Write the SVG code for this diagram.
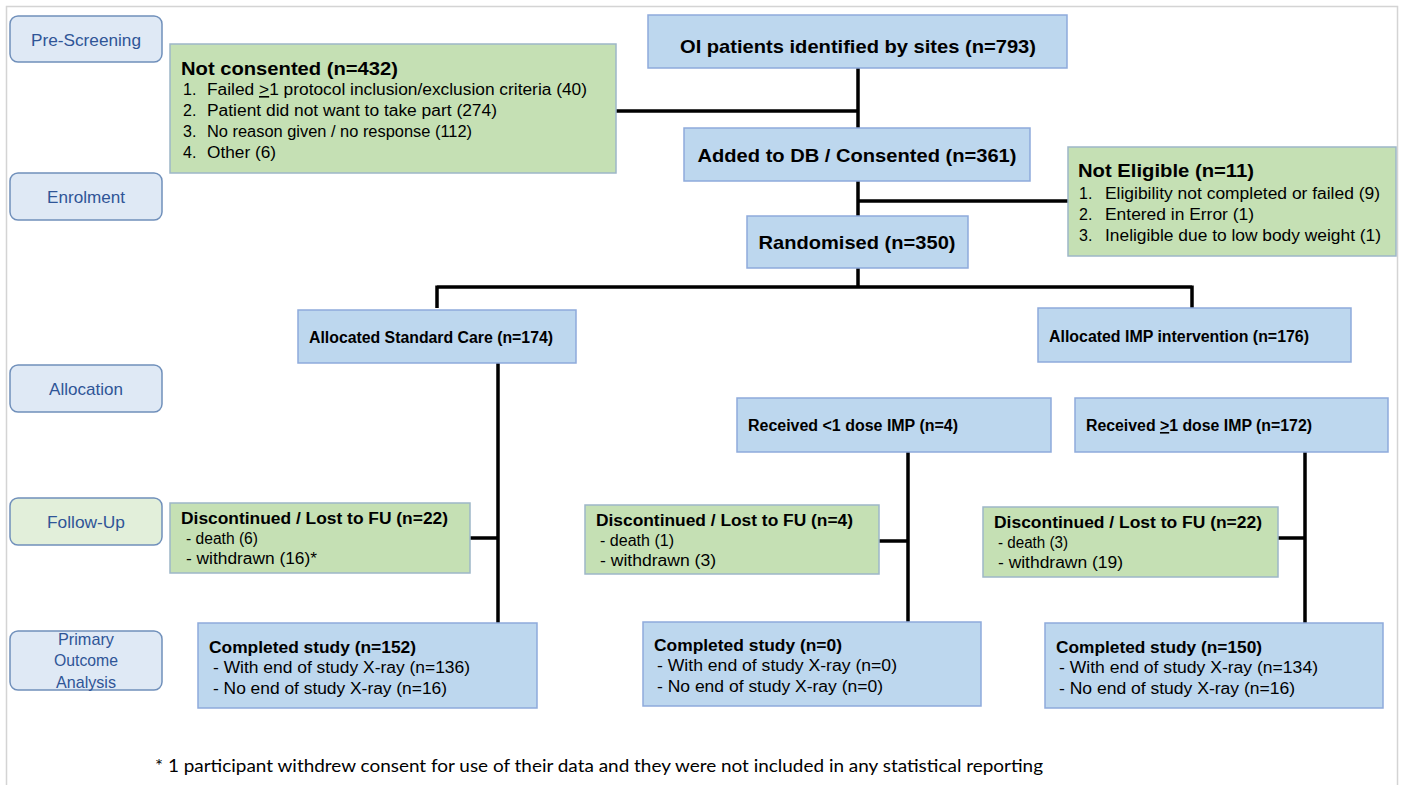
<svg xmlns="http://www.w3.org/2000/svg" width="1405" height="785" viewBox="0 0 1405 785">
<style>
text{font-family:"Liberation Sans",Arial,sans-serif;fill:#000}
.big{font-size:19px;font-weight:bold}
.t{font-size:18px;font-weight:bold}
.s{font-size:16px}
.sb{font-size:16px;font-weight:bold}
.blue{fill:#bdd7ee;stroke:#8eaadb;stroke-width:1.5}
.green{fill:#c5e0b4;stroke:#9db7c8;stroke-width:1.5}
.stage{fill:#dfe9f5;stroke:#7090bb;stroke-width:1.5}
.stageg{fill:#e2efda;stroke:#7090bb;stroke-width:1.5}
.st{font-size:17px;fill:#2f5597;text-anchor:middle}
.c{stroke:#000;stroke-width:3.5;fill:none}
</style>
<rect x="6.5" y="6.5" width="1391" height="800" fill="#fff" stroke="#d4d4d4" stroke-width="1.5"/>

<g id="stages">
<g id="stage-prescreening"><rect class="stage" x="10" y="16" width="152" height="46" rx="8"/><text class="st" x="86" y="46" textLength="110" lengthAdjust="spacingAndGlyphs">Pre-Screening</text></g>
<g id="stage-enrolment"><rect class="stage" x="10" y="173" width="152" height="47" rx="8"/><text class="st" x="86" y="203" textLength="78" lengthAdjust="spacingAndGlyphs">Enrolment</text></g>
<g id="stage-allocation"><rect class="stage" x="10" y="365" width="152" height="47" rx="8"/><text class="st" x="86" y="395" textLength="74" lengthAdjust="spacingAndGlyphs">Allocation</text></g>
<g id="stage-followup"><rect class="stageg" x="10" y="498" width="152" height="47" rx="8"/><text class="st" x="86" y="528" textLength="78" lengthAdjust="spacingAndGlyphs">Follow-Up</text></g>
<g id="stage-primary"><rect class="stage" x="10" y="631" width="152" height="59" rx="8"/>
<text class="st" x="86" y="645" textLength="56" lengthAdjust="spacingAndGlyphs">Primary</text>
<text class="st" x="86" y="666" textLength="64" lengthAdjust="spacingAndGlyphs">Outcome</text>
<text class="st" x="86" y="688" textLength="60" lengthAdjust="spacingAndGlyphs">Analysis</text></g>
</g>

<g id="connectors">
<path class="c" d="M858 68V128M616 111H858"/>
<path class="c" d="M858 181V216M858 201H1068"/>
<path class="c" d="M858 268V287M437 287H1192M437 285.5V308M1192 285.5V308"/>
<path class="c" d="M498 363V623M470 538H498"/>
<path class="c" d="M908 452V622M879 541H908"/>
<path class="c" d="M1305 452V623M1278 538H1305"/>
</g>

<g id="identified"><rect class="blue" x="648" y="15" width="419" height="53"/>
<text class="big" x="858" y="53" text-anchor="middle" textLength="356" lengthAdjust="spacingAndGlyphs">OI patients identified by sites (n=793)</text></g>

<g id="not-consented"><rect class="green" x="170" y="44" width="446" height="129"/>
<text class="t" x="181" y="75" textLength="217" lengthAdjust="spacingAndGlyphs">Not consented (n=432)</text>
<text class="s" x="183" y="95">1.</text><text class="s" x="207" y="95" textLength="380" lengthAdjust="spacingAndGlyphs">Failed <tspan text-decoration="underline">&gt;</tspan>1 protocol inclusion/exclusion criteria (40)</text>
<text class="s" x="183" y="116">2.</text><text class="s" x="207" y="116" textLength="290" lengthAdjust="spacingAndGlyphs">Patient did not want to take part (274)</text>
<text class="s" x="183" y="137">3.</text><text class="s" x="207" y="137" textLength="265" lengthAdjust="spacingAndGlyphs">No reason given / no response (112)</text>
<text class="s" x="183" y="158">4.</text><text class="s" x="207" y="158" textLength="69" lengthAdjust="spacingAndGlyphs">Other (6)</text>
</g>

<g id="consented"><rect class="blue" x="684" y="128" width="346" height="53"/>
<text class="big" x="857" y="162" text-anchor="middle" textLength="319" lengthAdjust="spacingAndGlyphs">Added to DB / Consented (n=361)</text></g>

<g id="not-eligible"><rect class="green" x="1068" y="147" width="328" height="109"/>
<text class="t" x="1078" y="177" textLength="176" lengthAdjust="spacingAndGlyphs">Not Eligible (n=11)</text>
<text class="s" x="1079" y="199">1.</text><text class="s" x="1105" y="199" textLength="275" lengthAdjust="spacingAndGlyphs">Eligibility not completed or failed (9)</text>
<text class="s" x="1079" y="220">2.</text><text class="s" x="1105" y="220" textLength="149" lengthAdjust="spacingAndGlyphs">Entered in Error (1)</text>
<text class="s" x="1079" y="241">3.</text><text class="s" x="1105" y="241" textLength="276" lengthAdjust="spacingAndGlyphs">Ineligible due to low body weight (1)</text>
</g>

<g id="randomised"><rect class="blue" x="747" y="216" width="221" height="52"/>
<text class="big" x="857" y="249" text-anchor="middle" textLength="197" lengthAdjust="spacingAndGlyphs">Randomised (n=350)</text></g>

<g id="alloc-standard"><rect class="blue" x="298" y="310" width="278" height="53"/>
<text class="sb" x="309" y="343" textLength="244" lengthAdjust="spacingAndGlyphs">Allocated Standard Care (n=174)</text></g>

<g id="alloc-imp"><rect class="blue" x="1038" y="308" width="313" height="54"/>
<text class="sb" x="1049" y="342" textLength="260" lengthAdjust="spacingAndGlyphs">Allocated IMP intervention (n=176)</text></g>

<g id="received-lt1"><rect class="blue" x="737" y="398" width="314" height="54"/>
<text class="sb" x="748" y="431" textLength="210" lengthAdjust="spacingAndGlyphs">Received &lt;1 dose IMP (n=4)</text></g>

<g id="received-ge1"><rect class="blue" x="1075" y="398" width="313" height="54"/>
<text class="sb" x="1086" y="431" textLength="226" lengthAdjust="spacingAndGlyphs">Received <tspan text-decoration="underline">&gt;</tspan>1 dose IMP (n=172)</text></g>

<g id="disc-standard"><rect class="green" x="170" y="503" width="300" height="70"/>
<text class="sb" x="181" y="524" textLength="267" lengthAdjust="spacingAndGlyphs">Discontinued / Lost to FU (n=22)</text>
<text class="s" x="186" y="544" textLength="72" lengthAdjust="spacingAndGlyphs">- death (6)</text>
<text class="s" x="186" y="564" textLength="131" lengthAdjust="spacingAndGlyphs">- withdrawn (16)*</text></g>

<g id="disc-lt1"><rect class="green" x="585" y="505" width="294" height="69"/>
<text class="sb" x="596" y="526" textLength="257" lengthAdjust="spacingAndGlyphs">Discontinued / Lost to FU (n=4)</text>
<text class="s" x="600" y="546" textLength="74" lengthAdjust="spacingAndGlyphs">- death (1)</text>
<text class="s" x="600" y="566" textLength="116" lengthAdjust="spacingAndGlyphs">- withdrawn (3)</text></g>

<g id="disc-ge1"><rect class="green" x="983" y="507" width="295" height="70"/>
<text class="sb" x="994" y="528" textLength="268" lengthAdjust="spacingAndGlyphs">Discontinued / Lost to FU (n=22)</text>
<text class="s" x="998" y="548" textLength="70" lengthAdjust="spacingAndGlyphs">- death (3)</text>
<text class="s" x="998" y="568" textLength="125" lengthAdjust="spacingAndGlyphs">- withdrawn (19)</text></g>

<g id="completed-standard"><rect class="blue" x="198" y="623" width="339" height="85"/>
<text class="sb" x="209" y="653" textLength="207" lengthAdjust="spacingAndGlyphs">Completed study (n=152)</text>
<text class="s" x="213" y="673" textLength="257" lengthAdjust="spacingAndGlyphs">- With end of study X-ray (n=136)</text>
<text class="s" x="213" y="694" textLength="234" lengthAdjust="spacingAndGlyphs">- No end of study X-ray (n=16)</text></g>

<g id="completed-lt1"><rect class="blue" x="643" y="622" width="338" height="84"/>
<text class="sb" x="654" y="651" textLength="188" lengthAdjust="spacingAndGlyphs">Completed study (n=0)</text>
<text class="s" x="657" y="671" textLength="240" lengthAdjust="spacingAndGlyphs">- With end of study X-ray (n=0)</text>
<text class="s" x="657" y="692" textLength="226" lengthAdjust="spacingAndGlyphs">- No end of study X-ray (n=0)</text></g>

<g id="completed-ge1"><rect class="blue" x="1045" y="623" width="338" height="85"/>
<text class="sb" x="1056" y="653" textLength="206" lengthAdjust="spacingAndGlyphs">Completed study (n=150)</text>
<text class="s" x="1059" y="673" textLength="259" lengthAdjust="spacingAndGlyphs">- With end of study X-ray (n=134)</text>
<text class="s" x="1059" y="694" textLength="236" lengthAdjust="spacingAndGlyphs">- No end of study X-ray (n=16)</text></g>

<g id="footnote"><text x="155" y="772" style="font-family:Lato,'Open Sans',sans-serif;font-size:18px" textLength="888" lengthAdjust="spacingAndGlyphs">* 1 participant withdrew consent for use of their data and they were not included in any statistical reporting</text></g>
</svg>
